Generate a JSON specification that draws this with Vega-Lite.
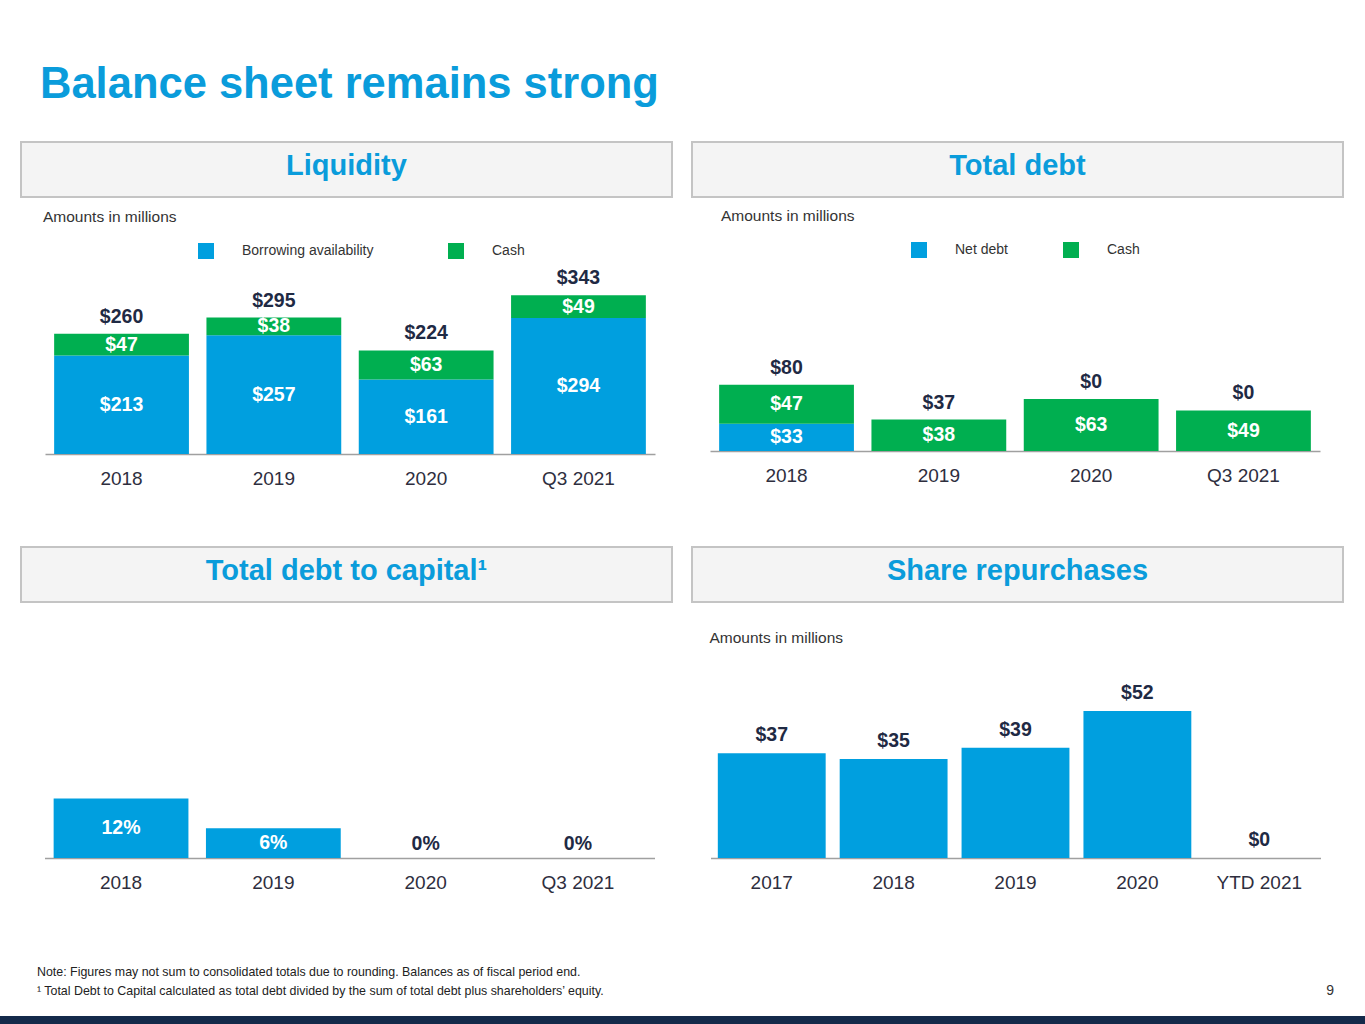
{
  "$schema": "https://vega.github.io/schema/vega-lite/v6.json",
  "background": "white",
  "padding": {"left": 0, "right": 0, "top": 62, "bottom": 0},
  "autosize": {"type": "pad"},
  "title": {"text": "Balance sheet remains strong", "anchor": "start", "dx": 40, "font": "Liberation Sans", "fontSize": 43.5, "fontWeight": "bold", "color": "#0A9CDB", "offset": 34},
  "config": {
    "view": {"stroke": null},
    "font": "Liberation Sans",
    "axis": {"labelFont": "Liberation Sans", "labelFontSize": 19, "labelColor": "#2E2E3E", "domainColor": "#A0A0A0", "domainWidth": 1.5, "ticks": false, "tickSize": 0, "grid": false, "labelPadding": 15, "labelAngle": 0},
    "legend": {"labelFont": "Liberation Sans", "labelFontSize": 14, "labelColor": "#333333", "symbolType": "square", "symbolSize": 256, "symbolStrokeWidth": 0, "labelOffset": 28, "padding": 0},
    "text": {"font": "Liberation Sans"}
  },
  "resolve": {"scale": {"color": "independent"}, "legend": {"color": "independent"}},
  "center": true,
  "spacing": 58,
  "vconcat": [
    {
      "spacing": 10,
      "center": true,
      "resolve": {"scale": {"color": "independent"}, "legend": {"color": "independent"}},
      "vconcat": [
        {
          "spacing": 18,
          "hconcat": [
            {"width": 651, "height": 55, "view": {"fill": "#F4F4F4", "stroke": "#C4C4C4", "strokeWidth": 2},
             "data": {"values": [{"label": "Liquidity"}]},
             "mark": {"type": "text", "fontSize": 29, "fontWeight": "bold", "color": "#0A9CDB", "baseline": "middle", "dy": -4},
             "encoding": {"text": {"field": "label"}}},
            {"width": 651, "height": 55, "view": {"fill": "#F4F4F4", "stroke": "#C4C4C4", "strokeWidth": 2},
             "data": {"values": [{"label": "Total debt"}]},
             "mark": {"type": "text", "fontSize": 29, "fontWeight": "bold", "color": "#0A9CDB", "baseline": "middle", "dy": -4},
             "encoding": {"text": {"field": "label"}}}
          ]
        },
        {
          "spacing": 55,
          "resolve": {"scale": {"color": "independent"}, "legend": {"color": "independent"}},
          "hconcat": [
            {
              "width": 610, "height": 185,
              "title": {"text": "Amounts in millions", "anchor": "start", "fontSize": 15.5, "fontWeight": "normal", "color": "#333333", "offset": 18, "dx": -2},
              "data": {"values": [
                {"period": "2018", "series": "Borrowing availability", "value": 213, "total": 260},
                {"period": "2018", "series": "Cash", "value": 47, "total": 260},
                {"period": "2019", "series": "Borrowing availability", "value": 257, "total": 295},
                {"period": "2019", "series": "Cash", "value": 38, "total": 295},
                {"period": "2020", "series": "Borrowing availability", "value": 161, "total": 224},
                {"period": "2020", "series": "Cash", "value": 63, "total": 224},
                {"period": "Q3 2021", "series": "Borrowing availability", "value": 294, "total": 343},
                {"period": "Q3 2021", "series": "Cash", "value": 49, "total": 343}
              ]},
              "transform": [
                {"stack": "value", "groupby": ["period"], "sort": [{"field": "series", "order": "ascending"}], "as": ["v0", "v1"]},
                {"calculate": "(datum.v0 + datum.v1) / 2", "as": "mid"}
              ],
              "encoding": {"x": {"field": "period", "type": "nominal", "scale": {"domain": ["2018", "2019", "2020", "Q3 2021"], "paddingInner": 0.115, "paddingOuter": 0.06}, "axis": {"title": null}}},
              "layer": [
                {"mark": {"type": "bar"},
                 "encoding": {
                   "y": {"field": "v0", "type": "quantitative", "scale": {"domain": [0, 400]}, "axis": null},
                   "y2": {"field": "v1"},
                   "color": {"field": "series", "type": "nominal", "scale": {"domain": ["Borrowing availability", "Cash"], "range": ["#009FDF", "#00AF50"]},
                             "legend": {"title": null, "orient": "none", "direction": "horizontal", "legendX": 153, "legendY": -26, "columnPadding": 74}}}},
                {"mark": {"type": "text", "fontSize": 19.5, "fontWeight": "bold", "color": "white", "baseline": "middle"},
                 "encoding": {"y": {"field": "mid", "type": "quantitative"}, "text": {"field": "value", "type": "quantitative", "format": "$.0f"}}},
                {"transform": [{"filter": "datum.series === 'Cash'"}],
                 "mark": {"type": "text", "fontSize": 19.5, "fontWeight": "bold", "color": "#1F2A44", "baseline": "bottom", "dy": -7},
                 "encoding": {"y": {"field": "v1", "type": "quantitative"}, "text": {"field": "total", "type": "quantitative", "format": "$.0f"}}}
              ]
            },
            {
              "width": 610, "height": 182,
              "title": {"text": "Amounts in millions", "anchor": "start", "fontSize": 15.5, "fontWeight": "normal", "color": "#333333", "offset": 18, "dx": 11},
              "data": {"values": [
                {"period": "2018", "series": "Net debt", "value": 33, "total": 80},
                {"period": "2018", "series": "Cash", "value": 47, "total": 80},
                {"period": "2019", "series": "Cash", "value": 38, "total": 37},
                {"period": "2020", "series": "Cash", "value": 63, "total": 0},
                {"period": "Q3 2021", "series": "Cash", "value": 49, "total": 0}
              ]},
              "transform": [
                {"stack": "value", "groupby": ["period"], "sort": [{"field": "series", "order": "descending"}], "as": ["v0", "v1"]},
                {"calculate": "(datum.v0 + datum.v1) / 2", "as": "mid"}
              ],
              "encoding": {"x": {"field": "period", "type": "nominal", "scale": {"domain": ["2018", "2019", "2020", "Q3 2021"], "paddingInner": 0.115, "paddingOuter": 0.06}, "axis": {"title": null}}},
              "layer": [
                {"mark": {"type": "bar"},
                 "encoding": {
                   "y": {"field": "v0", "type": "quantitative", "scale": {"domain": [0, 220]}, "axis": null},
                   "y2": {"field": "v1"},
                   "color": {"field": "series", "type": "nominal", "scale": {"domain": ["Net debt", "Cash"], "range": ["#009FDF", "#00AF50"]},
                             "legend": {"title": null, "orient": "none", "direction": "horizontal", "legendX": 201, "legendY": -27, "columnPadding": 55}}}},
                {"mark": {"type": "text", "fontSize": 19.5, "fontWeight": "bold", "color": "white", "baseline": "middle"},
                 "encoding": {"y": {"field": "mid", "type": "quantitative"}, "text": {"field": "value", "type": "quantitative", "format": "$.0f"}}},
                {"transform": [{"filter": "datum.series === 'Cash'"}],
                 "mark": {"type": "text", "fontSize": 19.5, "fontWeight": "bold", "color": "#1F2A44", "baseline": "bottom", "dy": -7},
                 "encoding": {"y": {"field": "v1", "type": "quantitative"}, "text": {"field": "total", "type": "quantitative", "format": "$.0f"}}}
              ]
            }
          ]
        }
      ]
    },
    {
      "spacing": 74,
      "center": true,
      "vconcat": [
        {
          "spacing": 27,
          "center": true,
          "vconcat": [
            {
              "spacing": 18,
              "hconcat": [
                {"width": 651, "height": 55, "view": {"fill": "#F4F4F4", "stroke": "#C4C4C4", "strokeWidth": 2},
                 "data": {"values": [{"label": "Total debt to capital¹"}]},
                 "mark": {"type": "text", "fontSize": 29, "fontWeight": "bold", "color": "#0A9CDB", "baseline": "middle", "dy": -4},
                 "encoding": {"text": {"field": "label"}}},
                {"width": 651, "height": 55, "view": {"fill": "#F4F4F4", "stroke": "#C4C4C4", "strokeWidth": 2},
                 "data": {"values": [{"label": "Share repurchases"}]},
                 "mark": {"type": "text", "fontSize": 29, "fontWeight": "bold", "color": "#0A9CDB", "baseline": "middle", "dy": -4},
                 "encoding": {"text": {"field": "label"}}}
              ]
            },
            {
              "spacing": 55,
              "hconcat": [
                {
                  "width": 610, "height": 198,
                  "data": {"values": [
                    {"period": "2018", "value": 0.12},
                    {"period": "2019", "value": 0.06},
                    {"period": "2020", "value": 0},
                    {"period": "Q3 2021", "value": 0}
                  ]},
                  "encoding": {"x": {"field": "period", "type": "nominal", "scale": {"domain": ["2018", "2019", "2020", "Q3 2021"], "paddingInner": 0.115, "paddingOuter": 0.06}, "axis": {"title": null}}},
                  "layer": [
                    {"mark": {"type": "bar", "color": "#009FDF"},
                     "encoding": {"y": {"field": "value", "type": "quantitative", "scale": {"domain": [0, 0.383]}, "axis": null}}},
                    {"transform": [{"filter": "datum.value > 0"}, {"calculate": "datum.value / 2", "as": "mid"}],
                     "mark": {"type": "text", "fontSize": 19.5, "fontWeight": "bold", "color": "white", "baseline": "middle"},
                     "encoding": {"y": {"field": "mid", "type": "quantitative"}, "text": {"field": "value", "type": "quantitative", "format": ".0%"}}},
                    {"transform": [{"filter": "datum.value <= 0"}],
                     "mark": {"type": "text", "fontSize": 19.5, "fontWeight": "bold", "color": "#1F2A44", "baseline": "bottom", "dy": -4},
                     "encoding": {"y": {"field": "value", "type": "quantitative"}, "text": {"field": "value", "type": "quantitative", "format": ".0%"}}}
                  ]
                },
                {
                  "width": 610, "height": 198,
                  "title": {"text": "Amounts in millions", "anchor": "start", "fontSize": 15.5, "fontWeight": "normal", "color": "#333333", "offset": 14, "dx": -1},
                  "data": {"values": [
                    {"period": "2017", "value": 37},
                    {"period": "2018", "value": 35},
                    {"period": "2019", "value": 39},
                    {"period": "2020", "value": 52},
                    {"period": "YTD 2021", "value": 0}
                  ]},
                  "encoding": {"x": {"field": "period", "type": "nominal", "scale": {"domain": ["2017", "2018", "2019", "2020", "YTD 2021"], "paddingInner": 0.115, "paddingOuter": 0.06}, "axis": {"title": null}}},
                  "layer": [
                    {"mark": {"type": "bar", "color": "#009FDF"},
                     "encoding": {"y": {"field": "value", "type": "quantitative", "scale": {"domain": [0, 67.3]}, "axis": null}}},
                    {"mark": {"type": "text", "fontSize": 19.5, "fontWeight": "bold", "color": "#1F2A44", "baseline": "bottom", "dy": -8},
                     "encoding": {"y": {"field": "value", "type": "quantitative"}, "text": {"field": "value", "type": "quantitative", "format": "$.0f"}}}
                  ]
                }
              ]
            }
          ]
        },
        {
          "spacing": 0,
          "bounds": "flush",
          "hconcat": [
            {"width": 1300, "height": 9, "view": {"fill": "#142A4A", "stroke": null},
             "title": {"text": ["Note: Figures may not sum to consolidated totals due to rounding. Balances as of fiscal period end.", "¹ Total Debt to Capital calculated as total debt divided by the sum of total debt plus shareholders’ equity."], "anchor": "start", "dx": 37, "fontSize": 12.4, "fontWeight": "normal", "color": "#222222", "lineHeight": 19, "offset": 17},
             "data": {"values": [{"t": ""}]},
             "mark": {"type": "text"},
             "encoding": {"text": {"field": "t"}}},
            {"width": 65, "height": 9, "view": {"fill": "#142A4A", "stroke": null},
             "title": {"text": "9", "anchor": "end", "dx": -31, "fontSize": 14, "fontWeight": "normal", "color": "#333333", "offset": 17},
             "data": {"values": [{"t": ""}]},
             "mark": {"type": "text"},
             "encoding": {"text": {"field": "t"}}}
          ]
        }
      ]
    }
  ]
}
